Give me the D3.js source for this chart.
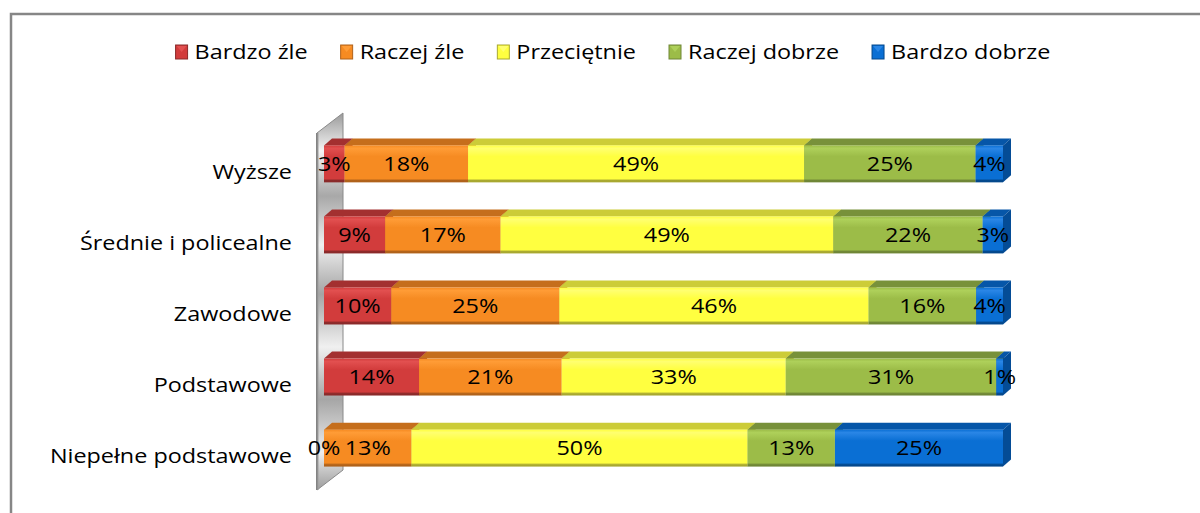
<!DOCTYPE html>
<html>
<head>
<meta charset="utf-8">
<script src="https://cdn.jsdelivr.net/npm/d3@7"></script>
<style>
  body { margin: 0; background: #fff; }
  svg { display: block; font-family: "Open Sans", "Noto Sans", sans-serif; }
</style>
</head>
<body>
<svg width="1200" height="513"></svg>
<script>
const width = 1200;
const height = 513;

// data (percent labels)
const categories = ["Wyższe", "Średnie i policealne", "Zawodowe", "Podstawowe", "Niepełne podstawowe"];
const seriesNames = ["Bardzo źle", "Raczej źle", "Przeciętnie", "Raczej dobrze", "Bardzo dobrze"];
const bardzoZle = [3, 9, 10, 14, 0];
const raczejZle = [18, 17, 25, 21, 13];
const przecietnie = [49, 49, 46, 33, 50];
const raczejDobrze = [25, 22, 16, 31, 13];
const bardzoDobrze = [4, 3, 4, 1, 25];

// front / top / side / light / dark colours for each series
const colors = [
  {front: "#d23c3c", top: "#a33030", side: "#8e2828", light: "#e25050", dark: "#8a2a2a"},
  {front: "#f68b22", top: "#c56e1c", side: "#b06018", light: "#ff9c36", dark: "#b0621a"},
  {front: "#ffff40", top: "#cccc38", side: "#b8b830", light: "#ffff70", dark: "#a8a830"},
  {front: "#9cbc48", top: "#78913a", side: "#6a8232", light: "#aed05a", dark: "#6f8636"},
  {front: "#0a6fd4", top: "#0656a8", side: "#044c96", light: "#2a86e6", dark: "#04488c"}
];

const table = categories.map((c, i) => ({
  cat: c,
  "Bardzo źle": bardzoZle[i],
  "Raczej źle": raczejZle[i],
  "Przeciętnie": przecietnie[i],
  "Raczej dobrze": raczejDobrze[i],
  "Bardzo dobrze": bardzoDobrze[i]
}));

const stacked = d3.stack().keys(seriesNames).offset(d3.stackOffsetExpand)(table);

const svg = d3.select("svg");
const defs = svg.append("defs");

// text in the original is a bit stretched sideways
const stretch = 1.17;

// outer frame (right and bottom run off the picture)
svg.append("path")
  .attr("d", `M11,${height + 5} L11,14 L${width + 5},14`)
  .attr("fill", "none")
  .attr("stroke", "#868686")
  .attr("stroke-width", 2.5);

const x = d3.scaleLinear().domain([0, 1]).range([324, 1003]);
const y = d3.scaleBand().domain(categories).range([128, 484]).paddingInner(0.48).paddingOuter(0.245);
const dx = 8, dy = -7;
const bh = y.bandwidth();

// gradients
colors.forEach((c, i) => {
  const g = defs.append("linearGradient").attr("id", "front" + i)
    .attr("x1", 0).attr("y1", 0).attr("x2", 0).attr("y2", 1);
  g.append("stop").attr("offset", "0%").attr("stop-color", c.front);
  g.append("stop").attr("offset", "8%").attr("stop-color", c.light);
  g.append("stop").attr("offset", "30%").attr("stop-color", c.front);
  g.append("stop").attr("offset", "90%").attr("stop-color", c.front);
  g.append("stop").attr("offset", "95%").attr("stop-color", c.dark);
  g.append("stop").attr("offset", "100%").attr("stop-color", c.dark);
});

const wallGrad = defs.append("linearGradient").attr("id", "wall")
  .attr("x1", 0).attr("y1", 0).attr("x2", 0).attr("y2", 1);
[["0%", "#9a9a9a"], ["10%", "#f4f4f4"], ["22%", "#a8a8a8"], ["35%", "#efefef"], ["48%", "#a4a4a4"],
 ["62%", "#f0f0f0"], ["76%", "#a6a6a6"], ["90%", "#eeeeee"], ["100%", "#9c9c9c"]]
  .forEach(s => wallGrad.append("stop").attr("offset", s[0]).attr("stop-color", s[1]));

const wallSide = defs.append("linearGradient").attr("id", "wallside")
  .attr("x1", 0).attr("y1", 0).attr("x2", 1).attr("y2", 0);
wallSide.append("stop").attr("offset", "0%").attr("stop-color", "#7c7c7c");
wallSide.append("stop").attr("offset", "100%").attr("stop-color", "#a0a0a0");

// side wall
const wx0 = 317, wx1 = 343, wTop = 133, wBot = 490, wdy = -20;
svg.append("path")
  .attr("d", `M${wx0},${wTop} L${wx1},${wTop + wdy} L${wx1},${wBot + wdy} L${wx0},${wBot} Z`)
  .attr("fill", "url(#wall)")
  .attr("stroke", "#8a8a8a")
  .attr("stroke-width", 1);
svg.append("rect")
  .attr("x", wx0 - 1).attr("y", wTop).attr("width", 2.5).attr("height", wBot - wTop)
  .attr("fill", "url(#wallside)");

// bars
const layers = svg.append("g").selectAll("g")
  .data(stacked)
  .join("g");

layers.each(function(layer, i) {
  const g = d3.select(this);
  const c = colors[i];
  layer.forEach(d => {
    const x0 = x(d[0]), x1 = x(d[1]);
    const y0 = y(d.data.cat);
    if (x1 - x0 < 0.5) return;
    // top face
    g.append("path")
      .attr("d", `M${x0},${y0} L${x0 + dx},${y0 + dy} L${x1 + dx},${y0 + dy} L${x1},${y0} Z`)
      .attr("fill", c.top);
    // side face
    g.append("path")
      .attr("d", `M${x1},${y0} L${x1 + dx},${y0 + dy} L${x1 + dx},${y0 + bh + dy} L${x1},${y0 + bh} Z`)
      .attr("fill", c.side);
    // front face
    g.append("rect")
      .attr("x", x0).attr("y", y0)
      .attr("width", x1 - x0).attr("height", bh)
      .attr("fill", `url(#front${i})`);
  });
});

// data labels
const allVals = [bardzoZle, raczejZle, przecietnie, raczejDobrze, bardzoDobrze];
stacked.forEach((layer, i) => {
  layer.forEach((d, j) => {
    const cx = (x(d[0]) + x(d[1])) / 2;
    const cy = y(d.data.cat) + bh / 2;
    svg.append("text")
      .attr("transform", `translate(${cx},${cy}) scale(${stretch},1)`)
      .attr("dy", "0.36em")
      .attr("text-anchor", "middle")
      .attr("font-size", "20px")
      .attr("fill", "#000")
      .text(allVals[i][j] + "%");
  });
});

// category labels
svg.append("g").selectAll("text")
  .data(categories)
  .join("text")
  .attr("transform", d => `translate(292,${y(d) + bh / 2 + 8}) scale(${stretch},1)`)
  .attr("dy", "0.36em")
  .attr("text-anchor", "end")
  .attr("font-size", "20px")
  .attr("fill", "#000")
  .text(d => d);

// legend
const legend = svg.append("g");
const legendY = 52;
const legendGap = 33;
let lx = 0;
seriesNames.forEach((name, i) => {
  const item = legend.append("g").attr("transform", `translate(${lx},0)`);
  item.append("rect")
    .attr("x", 0).attr("y", legendY - 7).attr("width", 12).attr("height", 14)
    .attr("fill", colors[i].front)
    .attr("stroke", colors[i].dark).attr("stroke-width", 1);
  item.append("path")
    .attr("d", `M1,${legendY - 6} L11,${legendY - 6} L6,${legendY}  Z`)
    .attr("fill", colors[i].light);
  const t = item.append("text")
    .attr("transform", `translate(19,${legendY}) scale(${stretch},1)`)
    .attr("dy", "0.36em")
    .attr("font-size", "20px")
    .attr("fill", "#000")
    .text(name);
  lx += 19 + t.node().getComputedTextLength() * stretch + legendGap;
});
const legendW = lx - legendGap;
legend.attr("transform", `translate(${613 - legendW / 2},0)`);
</script>
</body>
</html>
